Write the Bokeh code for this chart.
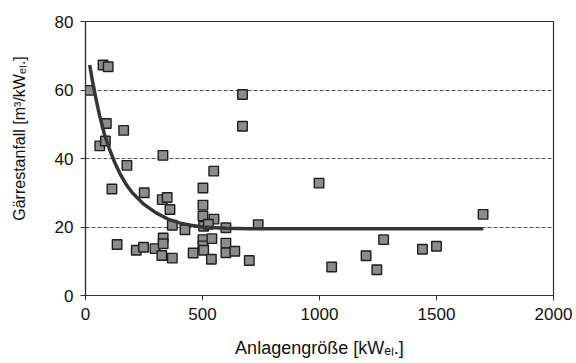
from bokeh.plotting import figure
from bokeh.models import Range1d, FixedTicker, ColumnDataSource
from bokeh.embed import file_html
from bokeh.resources import INLINE

# plant size [kW_el] and digestate volume [m3/kW_el]
size_kw = [18, 75, 97, 89, 163, 61, 85, 671, 671, 331, 177, 548, 113, 251,
           502, 328, 349, 361, 502, 502, 549, 505, 525, 502, 502, 505, 540,
           538, 600, 600, 600, 638, 700, 738, 371, 425, 135, 217, 248, 297,
           332, 332, 326, 371, 460, 998, 1274, 1199, 1052, 1245, 1440, 1500,
           1699]
residue = [59.9, 67.3, 66.8, 50.2, 48.2, 43.7, 45.1, 58.7, 49.4, 40.9, 38.0,
           36.3, 31.1, 30.0, 31.4, 28.0, 28.6, 25.1, 26.4, 23.2, 22.3, 20.2,
           20.8, 16.3, 14.5, 13.2, 16.6, 10.6, 19.8, 15.3, 12.5, 12.9, 10.2,
           20.7, 20.5, 19.2, 14.9, 13.2, 14.1, 13.7, 16.8, 15.1, 11.7, 10.9,
           12.4, 32.8, 16.3, 11.6, 8.3, 7.5, 13.5, 14.4, 23.7]

# trend line
trend_kw = [18, 30, 45, 60, 80, 100, 125, 150, 175, 200, 250, 300, 350, 400,
            450, 500, 600, 700, 850, 1000, 1200, 1400, 1700]
trend_val = [67.3, 62.5, 57.3, 52.6, 47.3, 43.2, 38.8, 35.2, 32.3, 30.0, 26.6,
             24.2, 22.4, 21.2, 20.5, 20.0, 19.6, 19.5, 19.5, 19.5, 19.5, 19.5,
             19.5]

x_ticks = [0, 500, 1000, 1500, 2000]
y_ticks = [0, 20, 40, 60, 80]
grid_vals = [20, 40, 60]

x_title = "Anlagengröße [kWₑₗ.]"
y_title = "\u00a0" * 9 + "Gärrestanfall [m³/kWₑₗ.]"

FONT = "Liberation Sans"

p = figure(width=576, height=363, output_backend="svg", toolbar_location=None,
           x_range=Range1d(0, 2000), y_range=Range1d(0, 80),
           min_border_left=85, min_border_right=23, min_border_top=21,
           min_border_bottom=68)
p.background_fill_color = "white"
p.border_fill_color = "white"
p.outline_line_color = "#333333"
p.outline_line_width = 1.2

p.xgrid.visible = False
p.ygrid.ticker = FixedTicker(ticks=grid_vals)
p.ygrid.grid_line_color = "#555555"
p.ygrid.grid_line_dash = "4 2"
p.ygrid.grid_line_width = 1

for ax, ticks in ((p.xaxis, x_ticks), (p.yaxis, y_ticks)):
    ax.ticker = FixedTicker(ticks=ticks)
    ax.minor_tick_line_color = None
    ax.major_tick_out = 5
    ax.major_tick_in = 0
    ax.major_tick_line_color = "#333333"
    ax.axis_line_color = "#333333"
    ax.axis_line_width = 1.2
    ax.major_label_text_font = FONT
    ax.major_label_text_font_size = "17px"
    ax.major_label_text_color = "#111111"
    ax.major_label_standoff = 7
    ax.axis_label_text_font = FONT
    ax.axis_label_text_font_style = "normal"
    ax.axis_label_text_color = "#111111"

p.xaxis.axis_label = x_title
p.xaxis.axis_label_text_font_size = "18px"
p.xaxis.axis_label_standoff = 15
p.yaxis.axis_label = y_title
p.yaxis.axis_label_text_font_size = "16px"
p.yaxis.axis_label_standoff = 24

src = ColumnDataSource(data=dict(x=size_kw, y=residue))
p.scatter("x", "y", source=src, marker="square", size=9.5,
          fill_color="#8c8c8c", line_color="#1e1e1e", line_width=1.4)
p.line(trend_kw, trend_val, line_color="#353535", line_width=3.5)

open("out.html", "w").write(file_html(p, INLINE))
